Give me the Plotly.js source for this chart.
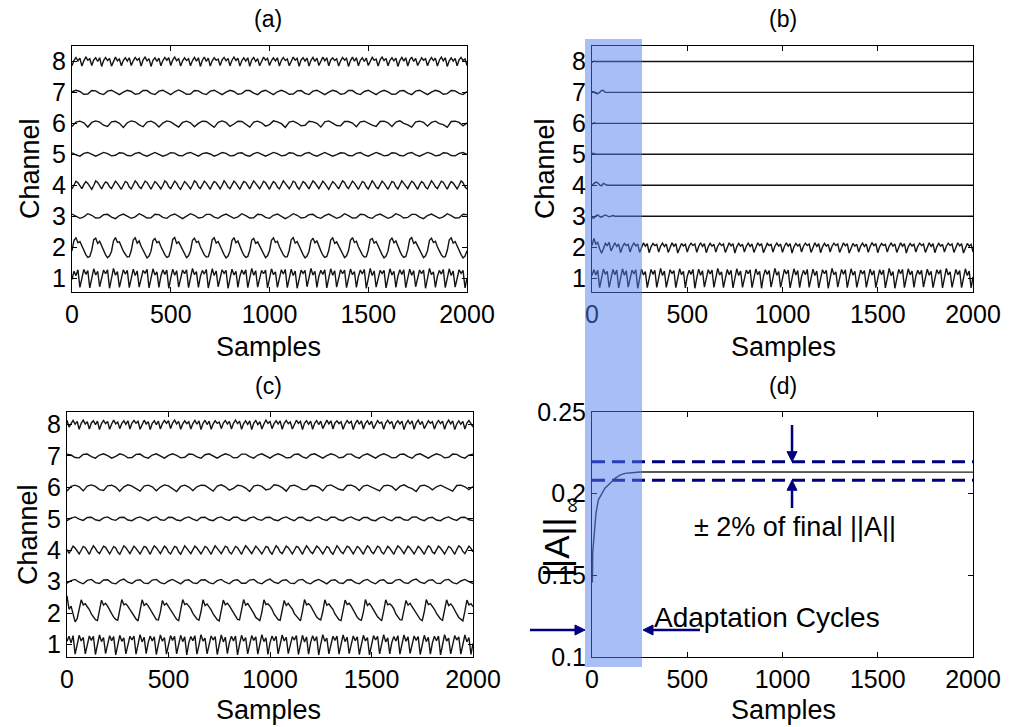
<!DOCTYPE html>
<html>
<head>
<meta charset="utf-8">
<script src="https://cdn.plot.ly/plotly-3.0.1.min.js"></script>
<style>html,body{margin:0;padding:0;background:#fff;}#chart{width:1011px;height:727px;}</style>
</head>
<body>
<div id="chart"></div>
<script>
// ---------- DATA (amplitudes relative to each channel's baseline; samples evenly spaced over 0..2000) ----------
const channels = [1, 2, 3, 4, 5, 6, 7, 8];
const xTicks = [0, 500, 1000, 1500, 2000];

// Panel (a)
const a_ch1 = [
-.05,.22,.08,.27,-.30,.02,.28,.12,.24,-.32,
.00,.30,.10,.22,-.28,.05,.26,.14,.27,-.33,
-.02,.31,.09,.21,-.30,.04,.27,.13,.25,-.31,
.01,.29,.08,.23,-.29,.03,.25,.15,.28,-.32,
-.01,.30,.10,.20,-.30,.06,.27,.12,.26,-.33,
.00,.29,.09,.24,-.29,.04,.26,.14,.27,-.31,
.02,.31,.11,.21,-.30,.05,.25,.13,.28,-.32,
-.02,.30,.08,.23,-.28,.03,.27,.15,.25,-.33,
.01,.29,.10,.22,-.30,.06,.26,.12,.27,-.31,
.00,.31,.09,.24,-.29,.04,.25,.14,.26,-.32,
.02,.30,.11,.20,-.30,.05,.27,.13,.28,-.31,
-.01,.29,.08,.23,-.33,.03,.26,.15,.25,-.28,
.01,.31,.10,.22,-.30,.06,.25,.12,.27,-.32,
.00,.30,.09,.24,-.29,.04,.27,.14,.26,-.31,
.02,.29,.11,.21,-.30,.05,.26,.13,.28,-.33,
-.02,.31,.08,.23,-.29,.03,.25,.15,.25,-.32,
.01,.30,.10,.22,-.30,.06,.27,.12,.27,-.31,
.00,.29,.09,.24,-.28,.04,.26,.14,.26,-.33,
.02,.31,.11,.20,-.30,.05,.25,.13,.28,-.31,
-.01,.30,.08,.23,-.29,.03,.27,.15,.25,-.32,
.00];
const a_ch2 = [
-.12,.22,.30,.14,.18,.02,-.12,-.24,-.33,-.30,
-.10,.24,.29,.12,.19,.04,-.10,-.25,-.34,-.28,
-.14,.20,.31,.15,.17,.01,-.13,-.23,-.32,-.31,
-.11,.23,.30,.13,.20,.03,-.11,-.26,-.35,-.29,
-.13,.21,.28,.14,.18,.02,-.12,-.24,-.33,-.30,
-.09,.25,.31,.12,.17,.04,-.10,-.23,-.34,-.28,
-.12,.22,.29,.15,.19,.01,-.14,-.25,-.32,-.31,
-.10,.24,.30,.13,.18,.03,-.11,-.24,-.35,-.29,
-.13,.21,.31,.14,.20,.02,-.12,-.26,-.33,-.30,
-.11,.23,.28,.12,.17,.04,-.10,-.23,-.34,-.28,
-.12,.22,.30,.15,.19,.01,-.13,-.25,-.32,-.31,
-.10,.24,.31,.13,.18,.03,-.11,-.24,-.35,-.29,
-.14,.20,.29,.14,.20,.02,-.12,-.26,-.33,-.30,
-.11,.23,.30,.12,.17,.04,-.10,-.23,-.34,-.28,
-.12,.22,.31,.15,.19,.01,-.14,-.25,-.32,-.31,
-.10,.24,.28,.13,.18,.03,-.11,-.24,-.35,-.29,
-.13,.21,.30,.14,.20,.02,-.12,-.26,-.33,-.30,
-.09,.25,.31,.12,.17,.04,-.10,-.23,-.34,-.28,
-.12,.22,.29,.15,.19,.01,-.13,-.25,-.32,-.31,
-.11,.23,.30,.13,.18,.03,-.11,-.24,-.35,-.29,
-.12];
const a_ch3 = [
.07,.00,-.07,-.02,.08,.03,-.06,-.05,.05,.06,
-.03,-.08,.02,.07,-.01,-.07,-.02,.08,.02,-.06,
-.05,.06,.05,-.04,-.07,.03,.07,-.01,-.08,.00,
.08,.03,-.06,-.04,.06,.06,-.03,-.07,.02,.07,
-.01,-.07,-.02,.08,.02,-.06,-.05,.06,.05,-.04,
-.07,.03,.07,.00,-.08,-.01,.08,.03,-.06,-.04,
.05,.06,-.03,-.07,.02,.07,-.01,-.07,-.02,.08,
.02,-.06,-.05,.06,.05,-.04,-.07,.03,.07,.00,
-.07,-.02,.08,.03,-.06,-.04,.06,.06,-.03,-.08,
.02,.07,-.01,-.07,-.02,.08,.02,-.06,-.05,.06,
.05];
const a_ch4 = [
-.12,.00,.13,.08,-.04,-.11,.02,.12,.06,-.06,
-.13,-.01,.14,.09,-.03,-.12,.01,.11,.07,-.05,
-.11,.02,.13,.06,-.04,-.13,.00,.12,.08,-.06,
-.12,.01,.14,.07,-.05,-.11,.02,.13,.09,-.04,
-.13,.00,.12,.06,-.03,-.12,-.01,.14,.08,-.05,
-.11,.01,.13,.07,-.06,-.13,.02,.12,.06,-.04,
-.12,.00,.14,.09,-.05,-.11,.01,.13,.07,-.03,
-.13,.02,.12,.08,-.04,-.12,.00,.14,.06,-.06,
-.11,-.01,.13,.07,-.05,-.13,.01,.12,.09,-.04,
-.12,.02,.14,.06,-.03,-.11,.00,.13,.08,-.05,
-.13,.01,.12,.07,-.06,-.12,.02,.14,.06,-.04,
-.11,.00,.13,.09,-.05,-.13,-.01,.12,.07,-.03,
-.12,.02,.14,.08,-.04,-.11,.01,.13,.06,-.06,
-.13,.00,.12,.06,-.05,-.12,.02,.14,.09,-.04,
-.11,.01,.13,.07,-.03,-.13,.00,.12,.08,-.05,
-.12,.02,.14,.06,-.06,-.11,.01,.13,.07,-.04,
-.13,.00,.12,.09,-.05,-.12,-.01,.14,.06,-.03,
-.11,.02,.13,.08,-.04,-.13,.01,.12,.07,-.06,
-.12,.00,.14,.06,-.05,-.11,.02,.13,.09,-.04,
-.13,.01,.12,.07,-.03,-.12,.00,.14,.08,-.05,
-.12];
const a_ch5 = [
.05,-.02,-.06,.03,.06,-.01,-.06,.00,.06,.02,
-.05,-.03,.05,.04,-.04,-.05,.03,.06,-.02,-.06,
.01,.06,.00,-.06,-.02,.05,.04,-.04,-.05,.03,
.06,-.01,-.06,.02,.05,.01,-.06,-.01,.06,.03,
-.05,-.04,.04,.05,-.03,-.06,.02,.06,-.01,-.06,
.00,.06,.02,-.05,-.03,.05,.04,-.04,-.05,.03,
.06,-.02,-.06,.01,.06,.00,-.06,-.01,.05,.04,
-.04,-.05,.03,.06,-.02,-.06,.01,.06,.01,-.05,
-.03,.05,.04,-.04,-.05,.03,.06,-.02,-.06,.00,
.06,.02,-.05,-.03,.05,.04,-.04,-.05,.03,.06,
-.01];
const a_ch6 = [
-.10,.04,.07,.02,-.12,.03,.08,.04,-.06,-.10,
.05,.07,.00,-.13,.02,.08,.05,-.05,-.11,.04,
.07,.01,-.12,.01,.08,.05,-.04,-.12,.03,.07,
.02,-.11,.00,.07,.06,-.03,-.13,.03,.08,.03,
-.10,-.02,.07,.06,-.02,-.12,.04,.07,.02,-.09,
-.04,.08,.05,-.01,-.13,.04,.07,.01,-.08,-.06,
.07,.05,.00,-.12,.05,.08,.01,-.07,-.08,.06,
.06,.01,-.11,.05,.07,.00,-.06,-.10,.06,.07,
.02,-.10,.04,.08,.00,-.05,-.12,.05,.07,.03,
-.09,.03,.07,-.01,-.04,-.13,.06,.07,.03,-.08,
.02];
const a_ch7 = [
.02,.07,.03,-.06,-.05,.06,.05,-.03,-.07,.04,
.07,.00,-.07,.01,.07,.03,-.06,-.04,.06,.06,
-.03,-.07,.04,.07,-.01,-.07,.02,.08,.02,-.06,
-.05,.06,.05,-.03,-.07,.04,.07,.00,-.07,.01,
.07,.03,-.06,-.04,.06,.06,-.02,-.07,.03,.07,
-.01,-.07,.02,.07,.02,-.06,-.05,.05,.06,-.03,
-.07,.04,.07,.00,-.07,.01,.07,.03,-.06,-.04,
.06,.06,-.03,-.07,.03,.07,-.01,-.07,.02,.07,
.02,-.06,-.05,.05,.06,-.02,-.07,.04,.07,.00,
-.07,.01,.07,.03,-.06,-.04,.06,.05,-.03,-.07,
.03];
const a_ch8 = [
-.14,.04,.13,.02,.11,-.15,.02,.14,.04,.09,
-.13,.05,.12,.00,.12,-.16,.03,.13,.03,.10,
-.15,.03,.14,.02,.08,-.14,.04,.12,.01,.12,
-.13,.02,.13,.04,.10,-.15,.05,.14,.02,.09,
-.16,.04,.12,.00,.11,-.14,.03,.13,.04,.12,
-.13,.05,.14,.02,.10,-.15,.02,.12,.03,.09,
-.14,.03,.13,.01,.12,-.16,.04,.14,.00,.11,
-.15,.02,.12,.04,.08,-.13,.05,.13,.02,.10,
-.14,.04,.14,.03,.11,-.15,.03,.12,.01,.12,
-.16,.05,.13,.00,.09,-.14,.02,.14,.04,.10,
-.13,.03,.12,.02,.12,-.15,.04,.13,.03,.08,
-.14,.02,.14,.04,.10,-.16,.05,.12,.01,.11,
-.15,.04,.13,.00,.11,-.13,.03,.14,.02,.12,
-.14,.05,.12,.03,.09,-.15,.02,.13,.04,.10,
-.16,.03,.14,.01,.12,-.14,.04,.12,.00,.11,
-.13,.02,.13,.04,.08,-.15,.05,.14,.03,.10,
-.14,.04,.12,.02,.11,-.16,.03,.13,.01,.12,
-.15,.05,.14,.00,.10,-.13,.02,.12,.04,.09,
-.14,.03,.13,.03,.11,-.15,.04,.14,.02,.12,
-.16,.02,.12,.01,.10,-.14,.05,.13,.03,.08,
-.13];

// Panel (b): channels 1-2 keep oscillating, 3-8 settle to flat lines
const b_ch1 = [
.08,.27,.10,.25,-.31,.02,.29,.12,.22,-.30,
.04,.28,.11,.26,-.32,.01,.30,.09,.24,-.29,
.03,.26,.13,.27,-.33,.00,.29,.10,.21,-.31,
.05,.28,.12,.25,-.30,.02,.31,.08,.23,-.30,
.04,.27,.14,.24,-.31,-.01,.30,.11,.22,-.32,
.06,.25,.12,.28,-.33,.01,.29,.09,.24,-.29,
.03,.27,.13,.26,-.30,.02,.31,.10,.20,-.31,
.05,.28,.11,.25,-.32,.00,.30,.08,.23,-.30,
.04,.26,.14,.27,-.31,-.02,.29,.11,.22,-.33,
.06,.27,.12,.24,-.29,.01,.31,.09,.21,-.30,
.03,.28,.13,.26,-.32,.02,.30,.10,.24,-.31,
.05,.25,.11,.28,-.30,.00,.29,.08,.23,-.32,
.04,.27,.14,.25,-.33,-.01,.31,.11,.20,-.29,
.06,.28,.12,.27,-.31,.01,.30,.09,.22,-.30,
.03,.26,.13,.24,-.30,.02,.29,.10,.24,-.31,
.05,.27,.11,.26,-.32,.00,.31,.08,.21,-.33,
.04,.28,.14,.28,-.31,-.02,.30,.11,.23,-.30,
.06,.25,.12,.25,-.29,.01,.29,.09,.22,-.31,
.03,.27,.13,.27,-.32,.02,.31,.10,.20,-.30,
.05,.28,.11,.24,-.31,.00,.30,.08,.23,-.32,
.04];
const b_ch2 = [
.05,.28,.10,.15,-.05,-.20,-.05,.12,.05,.15,
-.12,.03,.14,.02,.10,-.18,.01,.12,.05,.09,
-.16,.03,.13,.04,.10,-.17,.02,.14,.03,.11,
-.18,.01,.12,.05,.09,-.16,.03,.13,.02,.10,
-.17,.02,.14,.03,.11,-.19,.00,.12,.04,.09,
-.16,.03,.13,.05,.10,-.17,.02,.14,.02,.11,
-.18,.01,.12,.03,.09,-.16,.03,.13,.05,.10,
-.17,.02,.14,.04,.11,-.19,.01,.12,.03,.09,
-.16,.03,.13,.02,.10,-.17,.02,.14,.05,.11,
-.18,.00,.12,.05,.09,-.16,.03,.13,.03,.10,
-.17,.02,.14,.03,.11,-.19,.01,.12,.04,.09,
-.16,.03,.13,.05,.10,-.17,.02,.14,.02,.11,
-.18,.01,.12,.03,.09,-.16,.03,.13,.05,.10,
-.17,.02,.14,.04,.11,-.19,.00,.12,.03,.09,
-.16,.03,.13,.02,.10,-.17,.02,.14,.05,.11,
-.18,.01,.12,.05,.09,-.16,.03,.13,.03,.10,
-.17,.02,.14,.03,.11,-.19,.01,.12,.04,.09,
-.16,.03,.13,.05,.10,-.17,.02,.14,.02,.11,
-.18,.01,.12,.03,.09,-.16,.03,.13,.05,.10,
-.17,.02,.14,.04,.11,-.19,.00,.12,.03,.09,
-.15];
const b_settleX = [0,10,20,30,40,50,60,70,80,90,100,110,120,130,2000];
const b_ch3 = [-.06,-.06,.01,.04,-.01,-.03,.01,.04,.01,-.02,.00,.02,.00,.00,.00];
const b_ch4 = [.00,.04,.10,.08,.01,-.02,.06,.03,.00,.00,.00,.00,.00,.00,.00];
const b_ch5 = [.03,.03,.00,.00,.00,.00,.00,.00,.00,.00,.00,.00,.00,.00,.00];
const b_ch6 = [-.03,.02,.00,.00,.00,.00,.00,.00,.00,.00,.00,.00,.00,.00,.00];
const b_ch7 = [.02,.02,-.03,-.04,.00,.06,.06,.00,.00,.00,.00,.00,.00,.00,.00];
const b_ch8 = [-.03,.01,.00,.00,.00,.00,.00,.00,.00,.00,.00,.00,.00,.00,.00];

// Panel (c)
const c_ch1 = [
.10,.26,.05,.28,-.31,.01,.29,.11,.23,-.30,
.03,.27,.13,.26,-.32,.00,.30,.09,.22,-.29,
.05,.28,.12,.25,-.33,-.01,.29,.10,.21,-.30,
.04,.26,.14,.27,-.31,.02,.31,.08,.23,-.29,
.06,.27,.11,.24,-.32,.00,.30,.10,.22,-.31,
.03,.28,.13,.26,-.30,.01,.29,.09,.24,-.33,
.05,.25,.12,.28,-.31,-.02,.31,.11,.20,-.30,
.04,.27,.14,.25,-.32,.02,.30,.08,.23,-.29,
.06,.26,.11,.27,-.33,.00,.29,.10,.22,-.30,
.03,.28,.13,.24,-.31,.01,.31,.09,.21,-.32,
.05,.27,.12,.26,-.30,-.01,.30,.11,.23,-.29,
.04,.25,.14,.28,-.32,.02,.29,.08,.24,-.31,
.06,.28,.11,.25,-.33,.00,.31,.10,.20,-.30,
.03,.26,.13,.27,-.31,.01,.30,.09,.23,-.29,
.05,.27,.12,.24,-.32,-.02,.29,.11,.22,-.33,
.04,.28,.14,.26,-.30,.02,.31,.08,.21,-.30,
.06,.25,.11,.28,-.31,.00,.30,.10,.24,-.29,
.03,.27,.13,.25,-.32,.01,.29,.09,.23,-.31,
.05,.26,.12,.27,-.33,-.01,.31,.11,.20,-.30,
.04,.28,.14,.24,-.31,.02,.30,.08,.22,-.32,
.03];
const c_ch2 = [
.55,.12,.22,-.05,-.28,-.18,.15,.42,.26,.30,
.20,.11,-.03,-.12,-.21,-.24,.04,.41,.25,.31,
.22,.12,-.02,-.13,-.20,-.23,.06,.43,.26,.29,
.21,.10,-.01,-.12,-.19,-.25,.05,.42,.24,.30,
.23,.12,-.03,-.14,-.21,-.22,.03,.40,.25,.31,
.20,.11,-.02,-.12,-.20,-.24,.06,.43,.27,.30,
.22,.13,-.01,-.11,-.19,-.23,.04,.42,.24,.29,
.21,.10,-.03,-.13,-.21,-.25,.05,.41,.26,.31,
.23,.12,-.02,-.12,-.20,-.22,.06,.43,.25,.30,
.20,.11,-.01,-.14,-.19,-.24,.03,.42,.27,.29,
.22,.12,-.03,-.12,-.21,-.23,.05,.40,.24,.31,
.21,.13,-.02,-.11,-.20,-.25,.06,.43,.26,.30,
.23,.10,-.01,-.13,-.19,-.22,.04,.42,.25,.29,
.20,.12,-.03,-.12,-.21,-.24,.05,.41,.27,.31,
.22,.11,-.02,-.14,-.20,-.23,.03,.43,.24,.30,
.21,.12,-.01,-.12,-.19,-.25,.06,.42,.26,.29,
.23,.13,-.03,-.11,-.21,-.22,.05,.40,.25,.31,
.20,.10,-.02,-.13,-.20,-.24,.04,.43,.27,.30,
.22,.12,-.01,-.12,-.19,-.23,.06,.42,.24,.29,
.21,.11,-.03,-.14,-.21,-.25,.05,.41,.26,.30,
.20];
const c_ch3 = [
-.05,.03,.07,-.02,-.07,.04,.07,-.03,-.06,.05,
.06,-.04,-.07,.03,.08,-.02,-.06,.04,.06,-.05,
-.06,.05,.07,-.03,-.07,.02,.07,.00,-.07,.04,
.06,-.04,-.06,.05,.06,-.03,-.07,.03,.07,-.02,
-.07,.04,.06,-.05,-.05,.05,.07,-.03,-.07,.03,
.08,-.02,-.06,.04,.06,-.05,-.06,.05,.07,-.03,
-.07,.02,.07,.00,-.07,.04,.06,-.04,-.06,.05,
.06,-.03,-.07,.03,.07,-.02,-.07,.04,.06,-.05,
-.05,.05,.07,-.03,-.06,.04,.08,-.02,-.06,.04,
.06,-.05,-.06,.05,.07,-.03,-.07,.02,.07,.00,
-.06];
const c_ch4 = [
.02,-.10,.01,.13,.07,-.05,-.12,.00,.12,.08,
-.04,-.13,.02,.14,.06,-.05,-.11,.01,.13,.09,
-.03,-.12,.00,.12,.07,-.06,-.13,.02,.14,.08,
-.04,-.11,.01,.13,.06,-.05,-.12,.00,.12,.09,
-.03,-.13,.02,.14,.08,-.04,-.11,.01,.13,.07,
-.06,-.12,.00,.12,.09,-.05,-.13,.02,.14,.06,
-.04,-.11,.01,.13,.07,-.03,-.12,.00,.12,.08,
-.05,-.13,.02,.14,.06,-.04,-.11,.01,.13,.09,
-.06,-.12,.00,.12,.08,-.05,-.13,.02,.14,.07,
-.03,-.11,.01,.13,.06,-.04,-.12,.00,.12,.09,
-.05,-.13,.02,.14,.07,-.06,-.11,.01,.13,.08,
-.04,-.12,.00,.12,.09,-.03,-.13,.02,.14,.06,
-.05,-.11,.01,.13,.08,-.04,-.12,.00,.12,.07,
-.06,-.13,.02,.14,.06,-.05,-.11,.01,.13,.09,
-.03,-.12,.00,.12,.07,-.04,-.13,.02,.14,.08,
-.05,-.11,.01,.13,.09,-.06,-.12,.00,.12,.06,
-.04,-.13,.02,.14,.08,-.03,-.11,.01,.13,.07,
-.05,-.12,.00,.12,.06,-.04,-.13,.02,.14,.09,
-.06,-.11,.01,.13,.07,-.05,-.12,.00,.12,.08,
-.03,-.13,.02,.14,.09,-.04,-.11,.01,.13,.06,
-.05];
const c_ch5 = [
-.06,.02,.06,-.01,-.05,.04,.05,-.03,-.06,.03,
.06,-.02,-.05,.04,.05,-.04,-.06,.02,.06,-.01,
-.06,.03,.06,-.03,-.05,.05,.04,-.04,-.06,.02,
.06,-.01,-.06,.04,.05,-.03,-.06,.03,.06,-.02,
-.05,.05,.05,-.04,-.06,.03,.06,-.02,-.05,.04,
.05,-.03,-.06,.02,.06,-.01,-.06,.04,.05,-.04,
-.06,.03,.06,-.02,-.05,.05,.05,-.03,-.06,.02,
.06,-.01,-.05,.04,.04,-.04,-.06,.03,.06,-.02,
-.06,.04,.05,-.03,-.05,.05,.06,-.02,-.06,.03,
.05,-.04,-.06,.02,.06,-.01,-.05,.04,.05,-.03,
-.06];
const c_ch6 = [
-.12,.03,.07,.02,-.11,.04,.08,.03,-.07,-.10,
.05,.07,.01,-.12,.02,.08,.04,-.05,-.12,.04,
.07,.02,-.11,.01,.08,.05,-.03,-.13,.03,.07,
.01,-.10,.02,.07,.06,-.04,-.12,.04,.08,.02,
-.09,-.03,.07,.05,-.02,-.13,.04,.07,.03,-.08,
-.05,.08,.06,-.01,-.12,.05,.07,.02,-.07,-.07,
.06,.05,.00,-.11,.05,.08,.02,-.06,-.09,.06,
.07,.02,-.10,.04,.07,.01,-.05,-.11,.05,.07,
.03,-.09,.03,.08,.01,-.04,-.13,.05,.07,.02,
-.08,.02,.07,.00,-.05,-.12,.06,.07,.02,-.07,
.03];
const c_ch7 = [
.06,.03,-.05,-.06,.05,.06,-.02,-.07,.03,.07,
.01,-.07,-.01,.07,.03,-.06,-.05,.05,.06,-.03,
-.07,.03,.07,.00,-.07,.02,.07,.02,-.06,-.04,
.06,.05,-.03,-.07,.04,.07,-.01,-.07,.01,.07,
.03,-.06,-.05,.06,.06,-.02,-.07,.03,.07,-.01,
-.07,.02,.07,.02,-.06,-.05,.05,.06,-.03,-.07,
.04,.07,.00,-.07,.01,.07,.03,-.06,-.04,.06,
.06,-.03,-.07,.03,.07,-.01,-.07,.02,.07,.02,
-.06,-.05,.05,.06,-.02,-.07,.04,.07,.00,-.07,
.01,.07,.03,-.06,-.04,.06,.05,-.03,-.07,.03,
.06];
const c_ch8 = [
.14,-.08,.03,.13,.01,.10,-.15,.04,.14,.02,
.09,-.14,.05,.12,.00,.11,-.16,.03,.13,.03,
.10,-.15,.02,.14,.02,.08,-.13,.04,.12,.01,
.12,-.14,.05,.13,.04,.10,-.15,.02,.14,.02,
.09,-.16,.04,.12,.00,.11,-.14,.03,.13,.04,
.12,-.13,.05,.14,.02,.10,-.15,.02,.12,.03,
.09,-.14,.03,.13,.01,.12,-.16,.04,.14,.00,
.11,-.15,.02,.12,.04,.08,-.13,.05,.13,.02,
.10,-.14,.04,.14,.03,.11,-.15,.03,.12,.01,
.12,-.16,.05,.13,.00,.09,-.14,.02,.14,.04,
.10,-.13,.03,.12,.02,.12,-.15,.04,.13,.03,
.08,-.14,.02,.14,.04,.10,-.16,.05,.12,.01,
.11,-.15,.04,.13,.00,.11,-.13,.03,.14,.02,
.12,-.14,.05,.12,.03,.09,-.15,.02,.13,.04,
.10,-.16,.03,.14,.01,.12,-.14,.04,.12,.00,
.11,-.13,.02,.13,.04,.08,-.15,.05,.14,.03,
.10,-.14,.04,.12,.02,.11,-.16,.03,.13,.01,
.12,-.15,.05,.14,.00,.10,-.13,.02,.12,.04,
.09,-.14,.03,.13,.03,.11,-.15,.04,.14,.02,
.12,-.16,.02,.12,.01,.10,-.14,.05,.13,.03,
-.08];

// Panel (d): infinity norm of A versus samples
const d_samples = [0, 2, 4, 12, 21, 33, 51, 68, 103, 121, 147, 173, 252, 2000];
const d_normA   = [0.146, 0.146, 0.1645, 0.1778, 0.188, 0.1961, 0.2002, 0.2033, 0.2073, 0.2094, 0.2114, 0.2124, 0.2133, 0.2132];
const d_upperBand = 0.2196;
const d_lowerBand = 0.2082;
const d_arrowAt = 1050;  // sample position of the "±2%" arrows
const d_yTicks = [0.1, 0.15, 0.2, 0.25];
const d_yTickText = ['0.1', '0.15', '0.2', '0.25'];

// ---------- DRAWING ----------
const W = 1011, H = 727;
const FONT = 'Liberation Sans, Arial, sans-serif';
const px = v => v / W, py = v => 1 - v / H;
const LINE = {color: '#141414', width: 1.4};

// panel (d) plot box in pixels, used to place the annotation arrows
const D_BOX = {l: 592, r: 973, t: 412, b: 657, y0: 0.1, y1: 0.25};
const dX = s => D_BOX.l + s / 2000 * (D_BOX.r - D_BOX.l);
const dY = v => D_BOX.b - (v - D_BOX.y0) / (D_BOX.y1 - D_BOX.y0) * (D_BOX.b - D_BOX.t);

function evenX(arr) { const s = 2000 / (arr.length - 1); return arr.map((_, i) => i * s); }
function stack(list, xa, ya) {
  return list.map((arr, k) => ({
    type: 'scatter', mode: 'lines', x: evenX(arr),
    y: arr.map(v => v + channels[k]), xaxis: xa, yaxis: ya, line: LINE, hoverinfo: 'skip'
  }));
}

const traces = [
  ...stack([a_ch1, a_ch2, a_ch3, a_ch4, a_ch5, a_ch6, a_ch7, a_ch8], 'x', 'y'),
  ...stack([b_ch1, b_ch2], 'x2', 'y2'),
  ...[b_ch3, b_ch4, b_ch5, b_ch6, b_ch7, b_ch8].map((arr, k) => ({
    type: 'scatter', mode: 'lines', x: b_settleX, y: arr.map(v => v + channels[k + 2]),
    xaxis: 'x2', yaxis: 'y2', line: LINE, hoverinfo: 'skip'})),
  ...stack([c_ch1, c_ch2, c_ch3, c_ch4, c_ch5, c_ch6, c_ch7, c_ch8], 'x3', 'y3'),
  {type: 'scatter', mode: 'lines', x: [0, 2000], y: [d_upperBand, d_upperBand], xaxis: 'x4', yaxis: 'y4',
   line: {color: '#00007f', width: 3, dash: '13px,7px'}, hoverinfo: 'skip'},
  {type: 'scatter', mode: 'lines', x: [0, 2000], y: [d_lowerBand, d_lowerBand], xaxis: 'x4', yaxis: 'y4',
   line: {color: '#00007f', width: 3, dash: '13px,7px'}, hoverinfo: 'skip'},
  {type: 'scatter', mode: 'lines', x: d_samples, y: d_normA, xaxis: 'x4', yaxis: 'y4',
   line: {color: '#222', width: 1.4}, hoverinfo: 'skip'}
];

const tickFont = {family: FONT, size: 25, color: '#000'};
function xAx(l, r, anchor) {
  return {domain: [px(l), px(r)], anchor, range: [0, 2000], tickvals: xTicks, ticks: 'inside', ticklen: 5,
    tickcolor: '#000', showline: true, linecolor: '#000', linewidth: 1, mirror: 'ticks',
    showgrid: false, zeroline: false, tickfont: tickFont, fixedrange: true};
}
function yAx(t, b, anchor, range) {
  return {domain: [py(b), py(t)], anchor, range, tickvals: channels, ticks: 'inside', ticklen: 5,
    tickcolor: '#000', showline: true, linecolor: '#000', linewidth: 1, mirror: 'ticks',
    showgrid: false, zeroline: false, tickfont: tickFont, fixedrange: true};
}

const txt = (text, x, y, size, extra) => Object.assign({text, xref: 'paper', yref: 'paper', x: px(x), y: py(y),
  xanchor: 'center', yanchor: 'middle', showarrow: false, font: {family: FONT, size, color: '#000'}}, extra || {});

const NAVY = '#00007f';
// arrow drawn as a line shape plus a filled triangular head (tail -> head, pixel coords)
function arrow(x1, y1, x2, y2) {
  const len = Math.hypot(x2 - x1, y2 - y1), ux = (x2 - x1) / len, uy = (y2 - y1) / len;
  const hl = 10, hw = 5;
  const bx = x2 - ux * hl, by = y2 - uy * hl;
  const p = (x, y) => px(x).toFixed(5) + ',' + py(y).toFixed(5);
  return [
    {type: 'line', xref: 'paper', yref: 'paper', x0: px(x1), y0: py(y1), x1: px(bx), y1: py(by),
     line: {color: NAVY, width: 2.5}, layer: 'above'},
    {type: 'path', xref: 'paper', yref: 'paper', layer: 'above', fillcolor: NAVY, line: {color: NAVY, width: 1},
     path: 'M' + p(x2, y2) + 'L' + p(bx - uy * hw, by + ux * hw) + 'L' + p(bx + uy * hw, by - ux * hw) + 'Z'}
  ];
}

const layout = {
  width: W, height: H, margin: {l: 0, r: 0, t: 0, b: 0}, paper_bgcolor: '#fff', plot_bgcolor: '#fff',
  showlegend: false, font: {family: FONT, color: '#000'},
  xaxis: xAx(72, 467, 'y'),   yaxis: yAx(46, 292, 'x', [0.55, 8.5]),
  xaxis2: xAx(592, 973, 'y2'), yaxis2: yAx(46, 292, 'x2', [0.55, 8.5]),
  xaxis3: xAx(67, 473, 'y3'), yaxis3: yAx(412, 657, 'x3', [0.6, 8.4]),
  xaxis4: xAx(592, 973, 'y4'),
  yaxis4: Object.assign(yAx(412, 657, 'x4', [0.1, 0.25]), {tickvals: d_yTicks, ticktext: d_yTickText}),
  shapes: [
    {type: 'rect', xref: 'paper', yref: 'paper', x0: px(585), x1: px(642), y0: py(667), y1: py(39),
     fillcolor: 'rgba(80,125,240,0.5)', line: {width: 0}, layer: 'above'},
    ...arrow(dX(d_arrowAt), 425, dX(d_arrowAt), dY(d_upperBand)),
    ...arrow(dX(d_arrowAt), 508, dX(d_arrowAt), dY(d_lowerBand)),
    ...arrow(530, 630, 585, 630),
    ...arrow(700, 630, 643, 630)
  ],
  annotations: [
    txt('(a)', 268, 19, 23), txt('(b)', 783, 19, 23), txt('(c)', 268, 386, 23), txt('(d)', 783, 386, 23),
    txt('Samples', 268, 347, 27), txt('Samples', 783, 347, 27), txt('Samples', 268, 710, 27), txt('Samples', 783, 710, 27),
    txt('Channel', 30, 169, 27, {textangle: -90}), txt('Channel', 545, 169, 27, {textangle: -90}),
    txt('Channel', 28, 535, 27, {textangle: -90}),
    txt('||A||', 556, 547, 35, {textangle: -90}),
    txt('∞', 572, 505, 22, {textangle: -90}),
    txt('± 2% of final ||A||', 795, 527, 27),
    txt('Adaptation Cycles', 767, 617, 28)
  ]
};

Plotly.newPlot('chart', traces, layout, {staticPlot: true, displayModeBar: false});
</script>
</body>
</html>
